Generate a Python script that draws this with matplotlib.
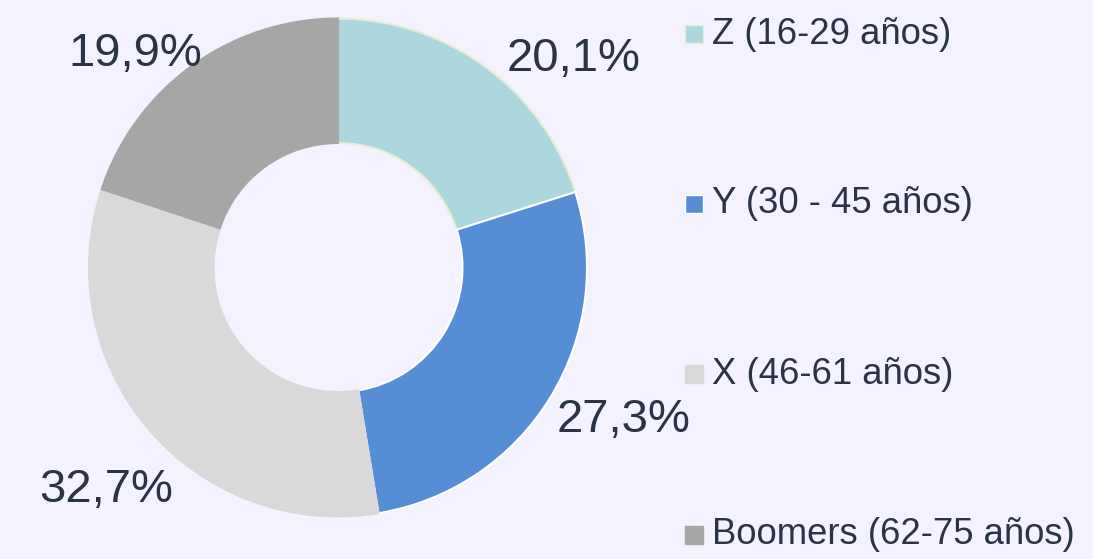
import matplotlib.pyplot as plt
from matplotlib.patches import Rectangle

labels = ["Z (16-29 años)", "Y (30 - 45 años)", "X (46-61 años)", "Boomers (62-75 años)"]
values = [20.1, 27.3, 32.7, 19.9]
pct_text = ["20,1%", "27,3%", "32,7%", "19,9%"]
colors = ["#ABD8DE", "#558ED5", "#D9D9D9", "#A6A6A6"]
edges = ["#E6EED6", "white", "#D9D9D9", "#A6A6A6"]

bg = "#F4F2FE"
txt = "#2B3346"
plt.rcParams['font.family'] = ['Liberation Sans', 'DejaVu Sans']

fig = plt.figure(figsize=(10.93, 5.59), dpi=100, facecolor=bg)
# pie axes: centre at (338, 267.5) px, 500 px square
ax = fig.add_axes([(338 - 250) / 1093, (559 - 267.5 - 250) / 559, 500 / 1093, 500 / 559])
ax.set_facecolor(bg)
wedges, _ = ax.pie(values, colors=colors, startangle=90, counterclock=False,
                   radius=0.996, wedgeprops=dict(width=0.498, linewidth=1.5))
for w, ec in zip(wedges, edges):
    w.set_edgecolor(ec)
ax.set_xlim(-1, 1)
ax.set_ylim(-1, 1)
ax.set_aspect('equal')
ax.axis('off')

# label positions (pixel centres in the figure)
label_px = [(574, 59), (624, 420), (106, 490), (135, 54)]
for t, (px, py) in zip(pct_text, label_px):
    fig.text(px / 1093, 1 - py / 559, t, fontsize=34, color=txt,
             ha='center', va='center')

# legend
leg_y = [34, 204, 374, 535]
for lab, c, ec, y in zip(labels, colors, edges, leg_y):
    fig.patches.append(Rectangle((685 / 1093, 1 - (y + 9) / 559), 18 / 1093, 18 / 559,
                                 transform=fig.transFigure, facecolor=c,
                                 edgecolor=ec, linewidth=1))
    fig.text(712 / 1093, 1 - y / 559, lab, fontsize=26.3, color=txt,
             ha='left', va='center')

fig.savefig("out.png", dpi=100, facecolor=bg)
